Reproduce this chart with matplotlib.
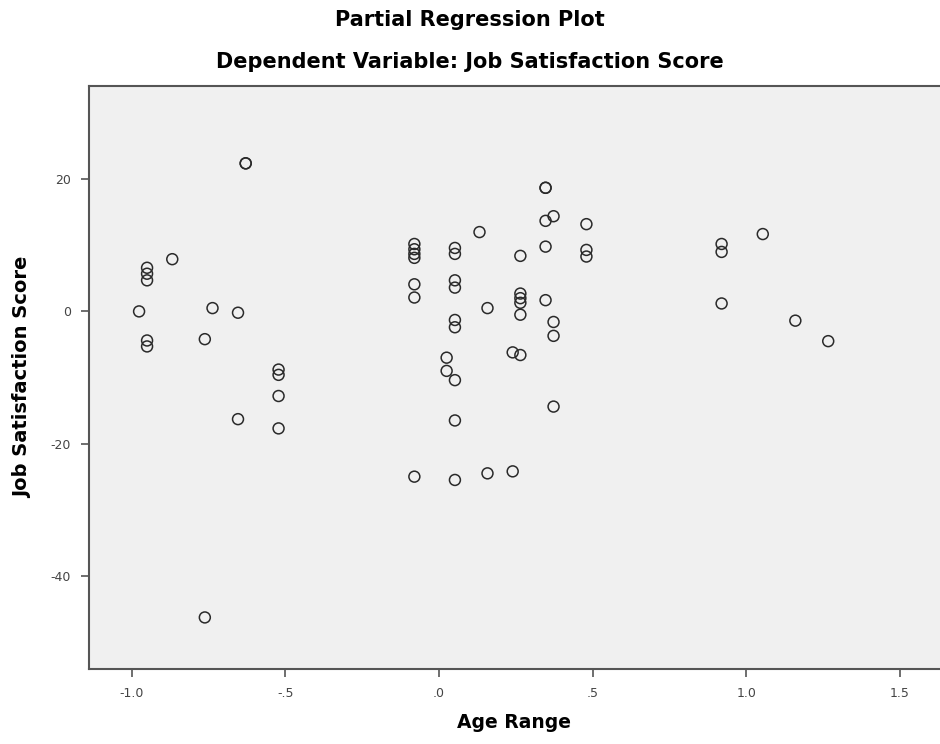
import matplotlib
matplotlib.use("Agg")
import matplotlib.pyplot as plt

plt.rcParams["axes.unicode_minus"] = False

# partial regression residuals
age_range = [-0.629, -0.629, -0.868, -0.950, -0.950, -0.950, -0.976, -0.737, -0.654,
             -0.950, -0.950, -0.762, -0.522, -0.522, -0.522, -0.522, -0.654, -0.762,
             -0.080, -0.080, -0.080, -0.080, -0.080, -0.080, -0.080,
             0.052, 0.052, 0.052, 0.052, 0.052, 0.052, 0.052, 0.052, 0.052,
             0.025, 0.025, 0.132, 0.158, 0.158, 0.240, 0.240,
             0.265, 0.265, 0.265, 0.265, 0.265, 0.265,
             0.347, 0.347, 0.347, 0.347, 0.347,
             0.373, 0.373, 0.373, 0.373, 0.480, 0.480, 0.480,
             0.920, 0.920, 0.920, 1.054, 1.160, 1.267]
job_score = [22.4, 22.4, 7.9, 6.6, 5.7, 4.7, 0.0, 0.5, -0.2,
             -4.4, -5.3, -4.2, -8.8, -9.6, -12.8, -17.7, -16.3, -46.3,
             10.2, 9.4, 8.7, 8.1, 4.1, 2.1, -25.0,
             9.6, 8.7, 4.7, 3.6, -1.3, -2.4, -10.4, -16.5, -25.5,
             -7.0, -9.0, 12.0, 0.5, -24.5, -6.2, -24.2,
             8.4, 2.7, 2.0, 1.3, -0.5, -6.6,
             18.7, 18.7, 13.7, 9.8, 1.7,
             14.4, -1.6, -3.7, -14.4, 13.2, 9.3, 8.3,
             10.2, 9.0, 1.2, 11.7, -1.4, -4.5]

x_ticks = [-1.0, -0.5, 0.0, 0.5, 1.0, 1.5]
x_tick_labels = ["-1.0", "-.5", ".0", ".5", "1.0", "1.5"]
y_ticks = [20, 0, -20, -40]

title_font = ["DejaVu Sans"]

fig = plt.figure(figsize=(9.4, 7.44), dpi=100)
ax = fig.add_axes([89 / 940, 1 - 669 / 744, 1 - 89 / 940 + 0.003, (669 - 86) / 744])
ax.set_facecolor("#f0f0f0")

ax.scatter(age_range, job_score, s=62, facecolors="none", edgecolors="#2a2a2a", linewidths=1.1)

ax.set_xlim(-1.139, 1.64)
ax.set_ylim(-54.1, 34.1)
ax.set_xticks(x_ticks)
ax.set_xticklabels(x_tick_labels)
ax.set_yticks(y_ticks)
ax.tick_params(axis="both", direction="out", length=6, width=1.2, color="#555555",
               labelsize=9, labelcolor="#444444", pad=7)

for side in ["left", "bottom", "top", "right"]:
    ax.spines[side].set_color("#555555")
    ax.spines[side].set_linewidth(1.5)

fig.text(0.5, 1 - 20 / 744, "Partial Regression Plot", ha="center", va="center",
         family=title_font, weight="bold", fontsize=15)
fig.text(0.5, 1 - 62 / 744, "Dependent Variable: Job Satisfaction Score", ha="center", va="center",
         family=title_font, weight="bold", fontsize=15)
fig.text(514 / 940, 1 - 722 / 744, "Age Range", ha="center", va="center",
         family=title_font, weight="bold", fontsize=13.5)
fig.text(23 / 940, 1 - 377 / 744, "Job Satisfaction Score", ha="center", va="center", rotation=90,
         family=title_font, weight="bold", fontsize=14)

fig.savefig("out.png", dpi=100)
